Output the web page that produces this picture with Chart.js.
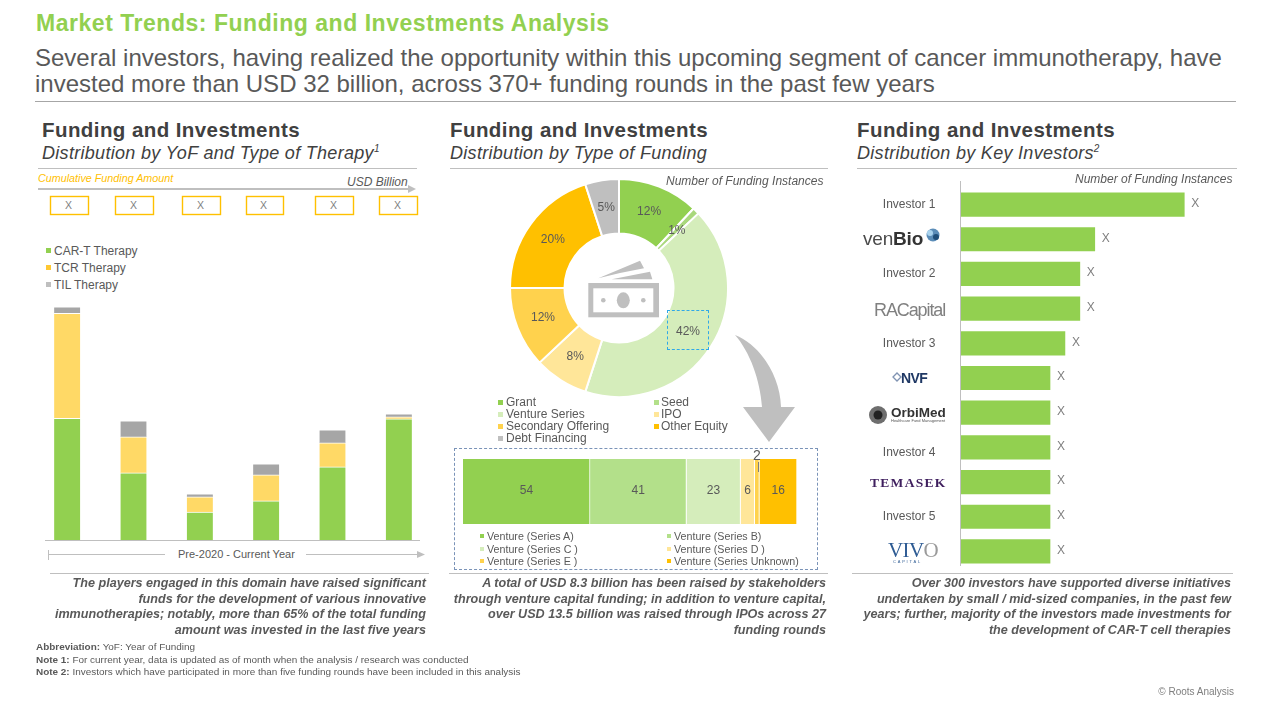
<!DOCTYPE html>
<html><head><meta charset="utf-8">
<script src="https://cdn.jsdelivr.net/npm/chart.js@4"></script>
<style>
html,body{margin:0;padding:0;background:#fff;width:1280px;height:720px;overflow:hidden;font-family:"Liberation Sans",Arial,sans-serif;color:#595959}
.a{position:absolute;white-space:nowrap}
canvas{position:absolute}
.hl{position:absolute;height:1px;background:#BFBFBF}
.h1{font-weight:bold;font-size:20.5px;line-height:24px;color:#404040;letter-spacing:.42px}
.h2{font-style:italic;font-size:18px;line-height:22px;color:#404040;letter-spacing:.3px}
.boxx{position:absolute;top:198px;width:39px;font-size:10.5px;line-height:14px;text-align:center;color:#7f7f7f}
.lg{font-size:12px;line-height:14px;color:#595959}
.sq{position:absolute;width:5px;height:5px}
.lg2{font-size:10.7px;line-height:12px;color:#595959}
.sq2{position:absolute;width:4px;height:4px}
.take{position:absolute;font-weight:bold;font-style:italic;font-size:12.6px;line-height:15.7px;text-align:right;color:#595959;white-space:nowrap}
.note{font-size:9.95px;line-height:12px;color:#595959}
svg{position:absolute;left:0;top:0}
</style></head><body>
<div class="a" style="left:36px;top:9px;font-size:23px;line-height:28px;font-weight:bold;color:#92D050;letter-spacing:.53px">Market Trends: Funding and Investments Analysis</div>
<div class="a" style="left:35px;top:45px;font-size:24px;line-height:26px;color:#595959">Several investors, having realized the opportunity within this upcoming segment of cancer immunotherapy, have<br>invested more than USD 32 billion, across 370+ funding rounds in the past few years</div>
<div class="hl" style="left:35px;top:101px;width:1201px;background:#A6A6A6"></div>

<div class="a h1" style="left:42px;top:118px">Funding and Investments</div>
<div class="a h2" style="left:42px;top:142px">Distribution by YoF and Type of Therapy<sup style="font-size:10px;line-height:0">1</sup></div>
<div class="hl" style="left:38px;top:168px;width:379px"></div>
<div class="a h1" style="left:450px;top:118px">Funding and Investments</div>
<div class="a h2" style="left:450px;top:142px">Distribution by Type of Funding</div>
<div class="hl" style="left:450px;top:168px;width:378px"></div>
<div class="a h1" style="left:857px;top:118px">Funding and Investments</div>
<div class="a h2" style="left:857px;top:142px">Distribution by Key Investors<sup style="font-size:10px;line-height:0">2</sup></div>
<div class="hl" style="left:857px;top:168px;width:380px"></div>

<div class="a" style="left:38px;top:172px;font-size:10.75px;line-height:13px;font-style:italic;color:#FFC000">Cumulative Funding Amount</div>
<div class="a" style="left:347px;top:175px;font-size:12px;line-height:14px;font-style:italic;color:#595959">USD Billion</div>
<div class="boxx" style="left:49px">X</div>
<div class="boxx" style="left:114px">X</div>
<div class="boxx" style="left:181px">X</div>
<div class="boxx" style="left:244px">X</div>
<div class="boxx" style="left:314px">X</div>
<div class="boxx" style="left:378px">X</div>

<div class="sq" style="left:46px;top:248px;background:#92D050"></div><div class="a lg" style="left:54px;top:244px">CAR-T Therapy</div>
<div class="sq" style="left:46px;top:265px;background:#FFC833"></div><div class="a lg" style="left:54px;top:261px">TCR Therapy</div>
<div class="sq" style="left:46px;top:282px;background:#BFBFBF"></div><div class="a lg" style="left:54px;top:278px">TIL Therapy</div>

<div class="hl" style="left:45px;top:540px;width:375px"></div>
<div class="a" style="left:178px;top:548px;font-size:11px;line-height:13px;color:#595959">Pre-2020 - Current Year</div>

<canvas id="cStack" width="398" height="240" style="left:34px;top:300px"></canvas>
<canvas id="cDonut" width="220" height="220" style="left:509px;top:178px"></canvas>
<canvas id="cVenture" width="334" height="65" style="left:463px;top:459px"></canvas>
<canvas id="cInvest" width="380" height="396" style="left:855px;top:180px"></canvas>

<div class="a" style="left:666px;top:174px;font-size:12px;line-height:14px;font-style:italic;color:#595959">Number of Funding Instances</div>
<div class="a" style="left:1075px;top:172px;font-size:12px;line-height:14px;font-style:italic;color:#595959">Number of Funding Instances</div>

<div class="sq" style="left:498px;top:400px;background:#92D050"></div><div class="a lg" style="left:506px;top:395px">Grant</div>
<div class="sq" style="left:654px;top:400px;background:#B3E08A"></div><div class="a lg" style="left:661px;top:395px">Seed</div>
<div class="sq" style="left:498px;top:412px;background:#D5EDBB"></div><div class="a lg" style="left:506px;top:407px">Venture Series</div>
<div class="sq" style="left:654px;top:412px;background:#FFE699"></div><div class="a lg" style="left:661px;top:407px">IPO</div>
<div class="sq" style="left:498px;top:424px;background:#FFD24D"></div><div class="a lg" style="left:506px;top:419px">Secondary Offering</div>
<div class="sq" style="left:654px;top:424px;background:#FFC000"></div><div class="a lg" style="left:661px;top:419px">Other Equity</div>
<div class="sq" style="left:498px;top:436px;background:#BFBFBF"></div><div class="a lg" style="left:506px;top:431px">Debt Financing</div>

<div style="position:absolute;left:454px;top:448px;width:362px;height:120px;border:1px dashed #7A93B8"></div>
<div style="position:absolute;left:667px;top:310px;width:40px;height:38px;border:1px dashed #2FA8E8"></div>

<div class="sq2" style="left:480px;top:534px;background:#92D050"></div><div class="a lg2" style="left:487px;top:530px">Venture (Series A)</div>
<div class="sq2" style="left:667px;top:534px;background:#B3E08A"></div><div class="a lg2" style="left:674px;top:530px">Venture (Series B)</div>
<div class="sq2" style="left:480px;top:547px;background:#D5EDBB"></div><div class="a lg2" style="left:487px;top:543px">Venture (Series C )</div>
<div class="sq2" style="left:667px;top:547px;background:#FFE699"></div><div class="a lg2" style="left:674px;top:543px">Venture (Series D )</div>
<div class="sq2" style="left:480px;top:559px;background:#FFD24D"></div><div class="a lg2" style="left:487px;top:555px">Venture (Series E )</div>
<div class="sq2" style="left:667px;top:559px;background:#FFC000"></div><div class="a lg2" style="left:674px;top:555px">Venture (Series Unknown)</div>

<svg width="1280" height="720" viewBox="0 0 1280 720">
  <g fill="none" stroke="#FFC000" stroke-width="1.4">
    <rect x="50.5" y="196.5" width="38" height="18"/>
    <rect x="115.5" y="196.5" width="38" height="18"/>
    <rect x="182.5" y="196.5" width="38" height="18"/>
    <rect x="246.5" y="196.5" width="37" height="18"/>
    <rect x="315.5" y="196.5" width="38" height="18"/>
    <rect x="379.5" y="196.5" width="38" height="18"/>
  </g>
  <line x1="38" y1="189" x2="410" y2="189" stroke="#BFBFBF" stroke-width="2"/>
  <polygon points="408,185 416,189 408,193" fill="#BFBFBF"/>
  <line x1="48.5" y1="550" x2="48.5" y2="560" stroke="#BFBFBF"/>
  <line x1="48" y1="554.5" x2="165" y2="554.5" stroke="#BFBFBF"/>
  <line x1="306" y1="554.5" x2="420" y2="554.5" stroke="#BFBFBF"/>
  <polygon points="417,551 425,554.5 417,558" fill="#BFBFBF"/>
  <rect x="588.3" y="283" width="70.7" height="34.3" fill="#BFBFBF"/>
  <rect x="593.3" y="288.3" width="60" height="24" fill="#fff"/>
  <ellipse cx="623.3" cy="300.3" rx="6.5" ry="8" fill="#BFBFBF"/>
  <circle cx="603.3" cy="300.3" r="2.3" fill="#BFBFBF"/>
  <circle cx="643.3" cy="300.3" r="2.3" fill="#BFBFBF"/>
  <polygon points="598.3,278.3 640,260.7 644,268.3 620,273" fill="#BFBFBF"/>
  <polygon points="611.7,279.3 650,271.7 652.3,279.3" fill="#BFBFBF"/>
  <path d="M735,335 C760,345 780,375 781,407 L795,407 L769,442 L743,407 L762,407 C760,380 750,352 735,335 Z" fill="#BFBFBF"/>
  <line x1="960.5" y1="181" x2="960.5" y2="566" stroke="#BFBFBF"/>
  <circle cx="933" cy="235" r="6.5" fill="#5B8DB8"/>
  <circle cx="930" cy="233" r="3" fill="#A9D3EE"/>
  <circle cx="936" cy="237" r="3" fill="#1F4E79"/>
  <polygon points="893,377 897,373 901,377 897,381" fill="none" stroke="#7F93B2" stroke-width="1.3"/>
  <circle cx="878" cy="415" r="9" fill="#6E6E6E"/>
  <circle cx="878" cy="415" r="4.5" fill="#222"/>
</svg>
<div class="a" style="left:863px;top:228px;font-size:19px;line-height:22px;color:#4A4A4A;letter-spacing:-.2px">ven<b style="color:#333">Bio</b></div>
<div class="a" style="left:874px;top:298px;font-size:18px;line-height:24px;color:#808080;letter-spacing:-1.1px">RACapital</div>
<div class="a" style="left:901px;top:371px;font-size:14px;line-height:14px;font-weight:bold;color:#1F3864;letter-spacing:-.6px">NVF</div>
<div class="a" style="left:891px;top:406px;font-size:13.5px;line-height:14px;font-weight:bold;color:#333">OrbiMed</div>
<div class="a" style="left:891px;top:418px;font-size:4px;line-height:5px;color:#555">Healthcare Fund Management</div>
<div class="a" style="left:870px;top:475px;font-family:'Liberation Serif',serif;font-size:13.5px;line-height:15px;font-weight:bold;color:#3F1F5E;letter-spacing:1.3px">TEMASEK</div>
<div class="a" style="left:888px;top:539px;font-family:'Liberation Serif',serif;font-size:21px;line-height:22px;color:#2F5C94;letter-spacing:-.6px">VIV<span style="color:#9a9a9a">O</span></div>
<div class="a" style="left:893px;top:559px;font-size:4px;line-height:5px;color:#2F5C94;letter-spacing:1.8px">CAPITAL</div>

<div class="hl" style="left:50px;top:573px;width:379px"></div>
<div class="hl" style="left:449px;top:573px;width:379px"></div>
<div class="hl" style="left:852px;top:573px;width:381px"></div>
<div class="take" style="right:854px;top:576px">The players engaged in this domain have raised significant<br>funds for the development of various innovative<br>immunotherapies; notably, more than 65% of the total funding<br>amount was invested in the last five years</div>
<div class="take" style="right:454px;top:576px">A total of USD 8.3 billion has been raised by stakeholders<br>through venture capital funding; in addition to venture capital,<br>over USD 13.5 billion was raised through IPOs across 27<br>funding rounds</div>
<div class="take" style="right:49px;top:576px">Over 300 investors have supported diverse initiatives<br>undertaken by small / mid-sized companies, in the past few<br>years; further, majority of the investors made investments for<br>the development of CAR-T cell therapies</div>

<div class="a note" style="left:36px;top:641px"><b>Abbreviation:</b> YoF: Year of Funding</div>
<div class="a note" style="left:36px;top:654px"><b>Note 1:</b> For current year, data is updated as of month when the analysis / research was conducted</div>
<div class="a note" style="left:36px;top:666px"><b>Note 2:</b> Investors which have participated in more than five funding rounds have been included in this analysis</div>
<div class="a" style="right:46px;top:686px;font-size:10px;line-height:12px;color:#7f7f7f">© Roots Analysis</div>

<script>
const yearCategories = ["Pre-2020","Year 2","Year 3","Year 4","Year 5","Current Year"];
const carT = [5.47,3.02,1.26,1.76,3.29,5.45];
const tcr  = [4.73,1.62,0.68,1.17,1.08,0.09];
const til  = [0.29,0.72,0.14,0.50,0.59,0.14];

const fundingTypes = ["Grant","Seed","Venture Series","IPO","Secondary Offering","Other Equity","Debt Financing"];
const fundingShare = [12,1,42,8,12,20,5];
const fundingColors = ["#92D050","#A9D87C","#D5EDBB","#FFE699","#FFD24D","#FFC000","#BFBFBF"];

const ventureSeries = ["Venture (Series A)","Venture (Series B)","Venture (Series C)","Venture (Series D)","Venture (Series E)","Venture (Series Unknown)"];
const ventureCounts = [54,41,23,6,2,16];
const ventureColors = ["#92D050","#B3E08A","#D5EDBB","#FFE699","#FFD24D","#FFC000"];

const investors = ["Investor 1","venBio","Investor 2","RA Capital","Investor 3","NVF","OrbiMed","Investor 4","Temasek","Investor 5","Vivo Capital"];
const logoInvestors = ["venBio","RA Capital","NVF","OrbiMed","Temasek","Vivo Capital"];
const investorCounts = [15,9,8,8,7,6,6,6,6,6,6];
const investorLabels = ["X","X","X","X","X","X","X","X","X","X","X"];

Chart.defaults.animation = false;
Chart.defaults.font.family = '"Liberation Sans", Arial, sans-serif';
Chart.defaults.plugins.legend.display = false;
Chart.defaults.plugins.tooltip.enabled = false;
Chart.defaults.responsive = false;
Chart.defaults.maintainAspectRatio = false;

function stackSet(label,data,color){
  return {label,data,backgroundColor:color,borderColor:"#fff",borderWidth:{top:1},borderSkipped:false,barThickness:26};
}
new Chart(document.getElementById("cStack"),{
  type:"bar",
  data:{labels:yearCategories,datasets:[stackSet("CAR-T Therapy",carT,"#92D050"),stackSet("TCR Therapy",tcr,"#FFD966"),stackSet("TIL Therapy",til,"#A6A6A6")]},
  options:{
    scales:{x:{stacked:true,display:false},y:{stacked:true,display:false,min:0,max:10.8}}
  }
});

const donutLabels = {id:"donutLabels",afterDatasetsDraw(chart){
  const c=chart.ctx; c.save(); c.fillStyle="#595959"; c.font='12px "Liberation Sans"'; c.textAlign="center"; c.textBaseline="middle";
  chart.getDatasetMeta(0).data.forEach((arc,i)=>{const p=arc.tooltipPosition(); c.fillText(fundingShare[i]+"%",p.x,p.y);});
  c.restore();
}};
new Chart(document.getElementById("cDonut"),{
  type:"doughnut",
  data:{labels:fundingTypes,datasets:[{data:fundingShare,backgroundColor:fundingColors,borderColor:"#fff",borderWidth:2}]},
  options:{cutout:"50%",plugins:{}},
  plugins:[donutLabels]
});

const ventureLabels = {id:"ventureLabels",afterDatasetsDraw(chart){
  const c=chart.ctx; c.save(); c.fillStyle="#595959"; c.font='12px "Liberation Sans"'; c.textAlign="center"; c.textBaseline="middle";
  chart.data.datasets.forEach((d,i)=>{
    const bar=chart.getDatasetMeta(i).data[0];
    if(d.data[0]<3) return;
    c.fillText(d.data[0],(bar.base+bar.x)/2,chart.chartArea.top+32);
  });
  c.restore();
}};
new Chart(document.getElementById("cVenture"),{
  type:"bar",
  data:{labels:["Venture"],datasets:ventureSeries.map((s,i)=>({label:s,data:[ventureCounts[i]],backgroundColor:ventureColors[i],borderColor:"#fff",borderWidth:{right:1},borderSkipped:false}))},
  options:{
    indexAxis:"y",
    datasets:{bar:{categoryPercentage:1,barPercentage:1}},
    scales:{x:{stacked:true,display:false,min:0,max:142},y:{stacked:true,display:false}}
  },
  plugins:[ventureLabels]
});

const investorValueLabels = {id:"investorValueLabels",afterDatasetsDraw(chart){
  const c=chart.ctx; c.save(); c.fillStyle="#7f7f7f"; c.font='12px "Liberation Sans"'; c.textAlign="center"; c.textBaseline="middle";
  chart.getDatasetMeta(0).data.forEach((b,i)=>c.fillText(investorLabels[i],b.x+11,b.y-1));
  c.restore();
}};
new Chart(document.getElementById("cInvest"),{
  type:"bar",
  data:{labels:investors,datasets:[{data:investorCounts,backgroundColor:"#92D050",barThickness:23.5}]},
  options:{
    indexAxis:"y",
    scales:{
      x:{display:false,min:0,max:18.4},
      y:{
        afterFit(s){s.width=105.5;},
        border:{display:false},grid:{display:false,drawTicks:true,tickLength:25},
        ticks:{crossAlign:"center",padding:0,color:"#595959",autoSkip:false,
          font(c){return c.index===7?{size:12,lineHeight:0.85}:{size:12};},
          callback(v){const n=investors[v];if(logoInvestors.includes(n))return "";return v===7?["",n]:n;}}
      }
    }
  },
  plugins:[investorValueLabels]
});

(function(){
  const d=document.createElement("div");d.className="a";d.style.cssText="left:753px;top:448px;font-size:14px;line-height:14px;color:#595959";d.textContent=String(ventureCounts[4]);document.body.appendChild(d);
  const l=document.createElement("div");l.style.cssText="position:absolute;left:758px;top:462px;width:1px;height:10px;background:#7f7f7f";document.body.appendChild(l);
})();
</script>
</body></html>
